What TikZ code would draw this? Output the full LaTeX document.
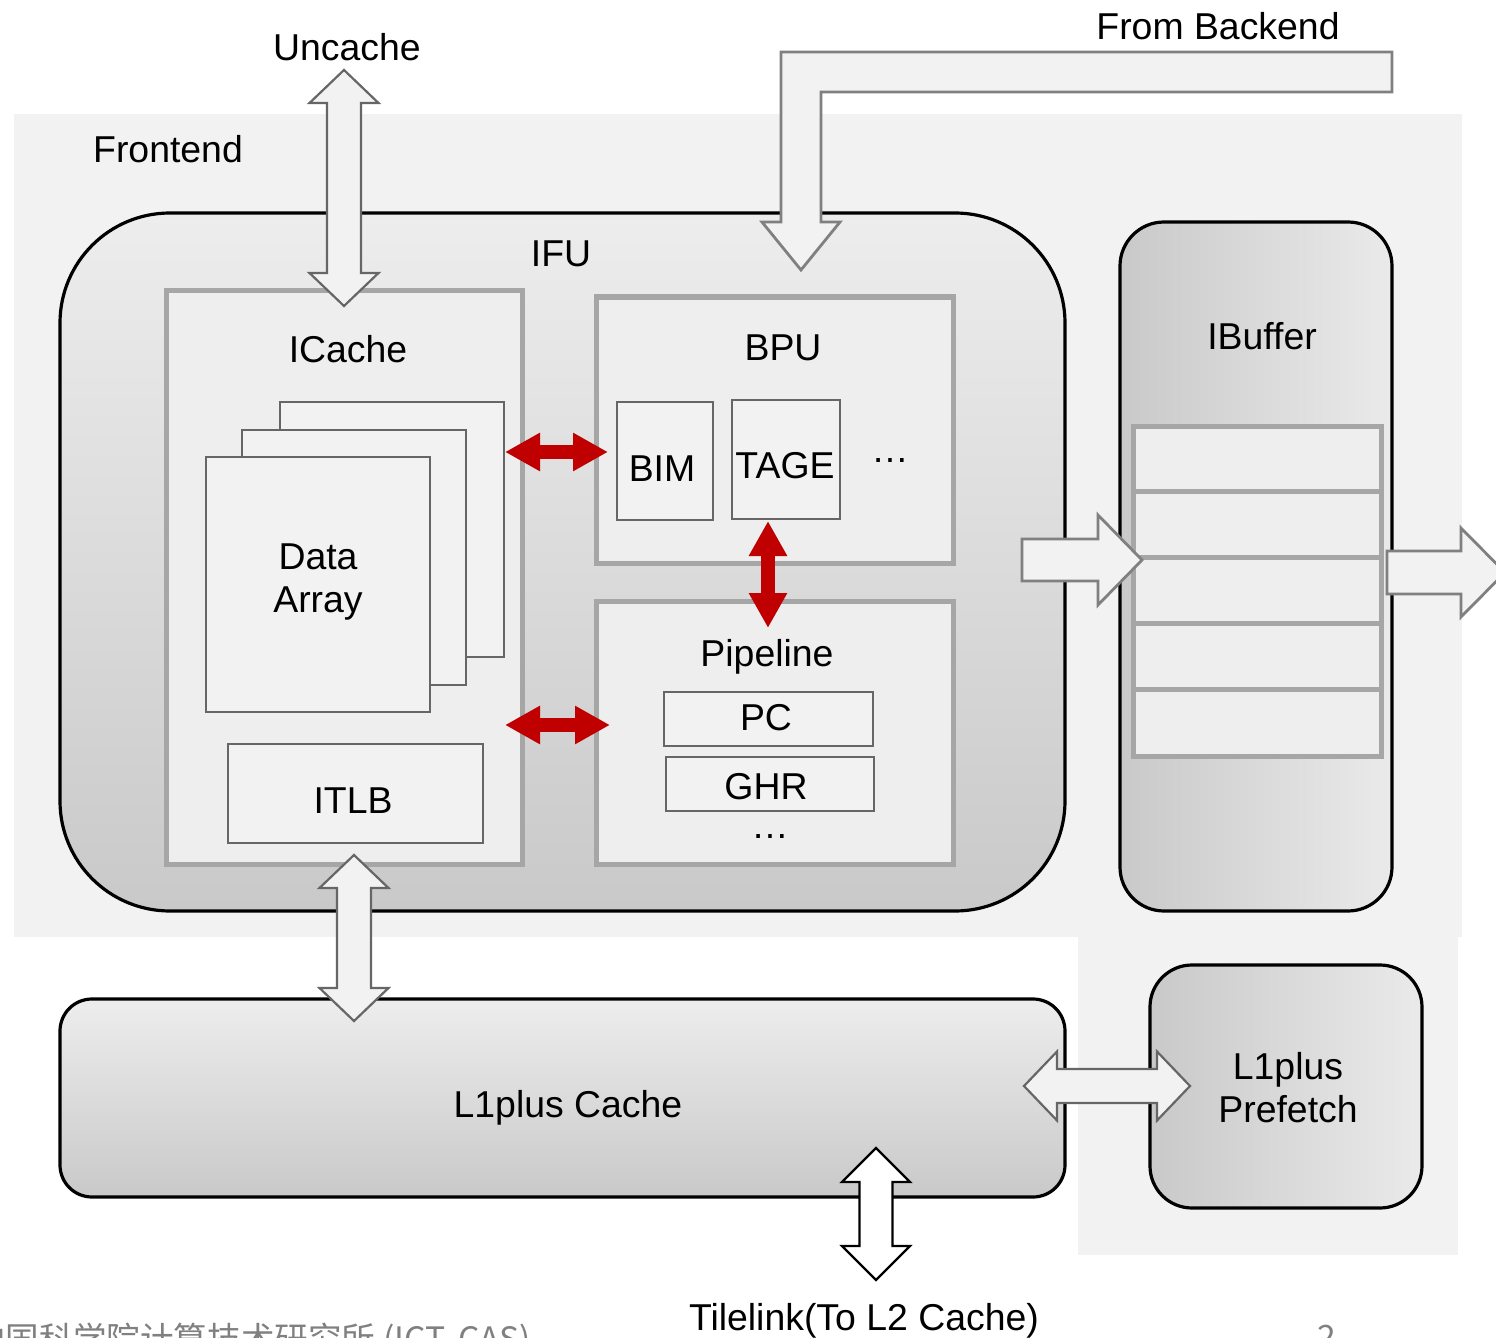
\documentclass[tikz,border=0pt]{standalone}
\usepackage{fontspec}
\setmainfont{Liberation Sans}
\newfontfamily\cjkfont{Noto Sans CJK SC}
\usetikzlibrary{fit,calc,arrows.meta}

\definecolor{bgpanel}{HTML}{F2F2F2}
\definecolor{unitfill}{HTML}{EEEEEE}
\definecolor{unitedge}{HTML}{A6A6A6}
\definecolor{cellfill}{HTML}{F2F2F2}
\definecolor{celledge}{HTML}{666666}
\definecolor{linkred}{HTML}{C00000}
\definecolor{arrowgray}{HTML}{808080}
\definecolor{arrowdark}{HTML}{666666}
\definecolor{ifutop}{HTML}{EDEDED}
\definecolor{ifubot}{HTML}{C9C9C9}
\definecolor{sideleft}{HTML}{C9C9C9}
\definecolor{sideright}{HTML}{EAEAEA}
\definecolor{footgray}{HTML}{808080}

% vertical double block arrow: [style]{top}{bottom}{shaft half}{head half}{head length}
\newcommand{\vdoublearrow}[6][]{%
  \path[#1] let \p1=(#2), \p2=(#3) in
    (\x1,\y1) -- (\x1+#5,\y1-#6) -- (\x1+#4,\y1-#6) -- (\x1+#4,\y2+#6)
    -- (\x1+#5,\y2+#6) -- (\x1,\y2) -- (\x1-#5,\y2+#6) -- (\x1-#4,\y2+#6)
    -- (\x1-#4,\y1-#6) -- (\x1-#5,\y1-#6) -- cycle;}
% horizontal double block arrow: [style]{left}{right}{shaft half}{head half}{head length}
\newcommand{\hdoublearrow}[6][]{%
  \path[#1] let \p1=(#2), \p2=(#3) in
    (\x1,\y1) -- (\x1+#6,\y1+#5) -- (\x1+#6,\y1+#4) -- (\x2-#6,\y1+#4)
    -- (\x2-#6,\y1+#5) -- (\x2,\y1) -- (\x2-#6,\y1-#5) -- (\x2-#6,\y1-#4)
    -- (\x1+#6,\y1-#4) -- (\x1+#6,\y1-#5) -- cycle;}
% single right-pointing block arrow: [style]{tail}{tip}{shaft half}{head half}{head length}
\newcommand{\hsinglearrow}[6][]{%
  \path[#1] let \p1=(#2), \p2=(#3) in
    (\x1,\y1+#4) -- (\x2-#6,\y1+#4) -- (\x2-#6,\y1+#5) -- (\x2,\y1)
    -- (\x2-#6,\y1-#5) -- (\x2-#6,\y1-#4) -- (\x1,\y1-#4) -- cycle;}

\begin{document}
\begin{tikzpicture}[x=0.5pt,y=-0.5pt,
  lbl/.style={font=\fontsize{18.7}{21.5}\selectfont, inner sep=0pt, text=black},
  bigblock/.style={draw=black, line width=1.6pt, inner sep=0pt},
  unitbox/.style={draw=unitedge, line width=2.5pt, fill=unitfill, inner sep=0pt},
  cellbox/.style={draw=celledge, line width=1.2pt, fill=cellfill, inner sep=0pt},
  slotbox/.style={draw=unitedge, line width=2.5pt, fill=unitfill, inner sep=0pt},
  redlink/.style={draw=linkred, line width=7pt,
    {Triangle[length=17.5pt,width=18pt]}-{Triangle[length=17.5pt,width=18pt]}},
  blocklight/.style={draw=arrowgray, line width=1.4pt, fill=bgpanel},
  blockdark/.style={draw=arrowdark, line width=1.1pt, fill=bgpanel},
  blockblack/.style={draw=black, line width=1.1pt, fill=white},
  footer/.style={font=\cjkfont\fontsize{16.8}{20}\selectfont, text=footgray, inner sep=0pt}]

\useasboundingbox (0,0) rectangle (1496,1338);
\clip (0,0) rectangle (1496,1338);
\fill[white] (0,0) rectangle (1496,1338);

% frontend panels
\fill[bgpanel] (14,114) rectangle (1462,937);
\fill[bgpanel] (1078,937) rectangle (1458,1255);
\node[lbl, anchor=base] (frontendlbl) at (168,163) {Frontend};

% IFU
\node[bigblock, fit={(60,213)(1065,911)}, rounded corners=55pt,
      top color=ifutop, bottom color=ifubot] (ifu) {};
\node[lbl, anchor=base] (ifulbl) at (561,266) {IFU};

% ICache
\node[unitbox, fit={(166,291)(522,864)}] (icache) {};
\node[lbl, anchor=base] (icachelbl) at (348,363) {ICache};
\node[cellbox, fit={(280,402)(504,657)}] (arrback) {};
\node[cellbox, fit={(242,430)(466,685)}] (arrmid) {};
\node[cellbox, fit={(206,457)(430,712)}] (arrfront) {};
\node[lbl, align=center] (arrlbl) at (318,582) {Data\\Array};
\node[cellbox, fit={(228,744)(483,843)}] (itlb) {};
\node[lbl, anchor=base] (itlblbl) at (353,813) {ITLB};

% BPU
\node[unitbox, fit={(596,297)(953,563)}] (bpu) {};
\node[lbl, anchor=base] (bpulbl) at (783,360) {BPU};
\node[cellbox, fit={(617,402)(713,520)}] (bim) {};
\node[lbl, anchor=base] (bimlbl) at (662,481) {BIM};
\node[cellbox, fit={(732,400)(840,519)}] (tage) {};
\node[lbl, anchor=base] (tagelbl) at (785,478) {TAGE};
\node[lbl, anchor=base] (bpudots) at (890,462) {…};

% Pipeline
\node[unitbox, fit={(596,601)(953,864)}] (pipe) {};
\node[lbl, anchor=base] (pipelbl) at (767,666) {Pipeline};
\node[cellbox, fit={(664,692)(873,746)}] (pc) {};
\node[lbl, anchor=base] (pclbl) at (766,730) {PC};
\node[cellbox, fit={(666,757)(874,811)}] (ghr) {};
\node[lbl, anchor=base] (ghrlbl) at (766,799) {GHR};
\node[lbl, anchor=base] (pipedots) at (770,838) {…};

% IBuffer
\node[bigblock, fit={(1120,222)(1392,911)}, rounded corners=22pt,
      left color=sideleft, right color=sideright] (ibuf) {};
\node[lbl, anchor=base] (ibuflbl) at (1262,350) {IBuffer};
\foreach \i/\ya/\yb in {1/426/491, 2/491/557, 3/557/623, 4/623/689, 5/689/756}
  \node[slotbox, fit={(1133,\ya)(1381,\yb)}] (slot\i) {};

% L1plus Cache and prefetcher
\node[bigblock, fit={(60,999)(1065,1197)}, rounded corners=16pt,
      top color=ifutop, bottom color=ifubot] (l1plus) {};
\node[lbl, anchor=base] (l1pluslbl) at (568,1117) {L1plus Cache};
\node[bigblock, fit={(1150,965)(1422,1208)}, rounded corners=21pt,
      left color=sideleft, right color=sideright] (pf) {};
\node[lbl, align=center] (pflbl) at (1288,1088) {L1plus\\Prefetch};

% red links inside the IFU
\coordinate (icBimL) at (505,452);  \coordinate (icBimR) at (608,452);
\coordinate (icPipeL) at (505,725); \coordinate (icPipeR) at (610,725);
\coordinate (tageLow) at (768,521); \coordinate (pipeTop) at (768,628);
\draw[redlink] (icBimL) -- (icBimR);
\draw[redlink] (icPipeL) -- (icPipeR);
\draw[redlink] (tageLow) -- (pipeTop);

% Uncache port
\node[lbl, anchor=base] (uncachelbl) at (347,61) {Uncache};
\coordinate (uncTop) at (344,70);
\coordinate (uncBot) at (344,306);
\vdoublearrow[blockdark]{uncTop}{uncBot}{8.5pt}{17.25pt}{16.5pt}

% redirect from backend into the BPU
\node[lbl, anchor=base] (backendlbl) at (1218,40) {From Backend};
\coordinate (bpuFeed) at (801,270);
\draw[blocklight] (1392,52) -- (781,52) -- (781,222) -- (762,222) -- (bpuFeed)
  -- (840,222) -- (821,222) -- (821,92) -- (1392,92) -- cycle;

% fetch path IFU -> IBuffer -> out
\coordinate (ifuOut) at (1022,560);
\coordinate (ibufIn) at (1142,560);
\hsinglearrow[blocklight]{ifuOut}{ibufIn}{10.5pt}{22.5pt}{22pt}
\coordinate (ibufOut) at (1387,572.5);
\coordinate (decodeIn) at (1505,572.5);
\hsinglearrow[blocklight]{ibufOut}{decodeIn}{10.75pt}{22.25pt}{22pt}

% ICache <-> L1plus, L1plus <-> prefetch, L1plus <-> L2
\coordinate (itlbLow) at (354,855);
\coordinate (l1Top) at (354,1021);
\vdoublearrow[blockdark]{itlbLow}{l1Top}{8.5pt}{17.25pt}{16.5pt}
\coordinate (l1Right) at (1024,1086);
\coordinate (pfLeft) at (1190,1086);
\hdoublearrow[blockdark]{l1Right}{pfLeft}{8.5pt}{17.25pt}{16.5pt}
\coordinate (l1Low) at (876,1148);
\coordinate (l2Port) at (876,1280);
\vdoublearrow[blockblack]{l1Low}{l2Port}{8.25pt}{17pt}{17pt}
\node[lbl, anchor=base] (tilelinklbl) at (864,1330) {Tilelink(To L2 Cache)};

% slide footer
\node[footer, anchor=base west] (footinst) at (-28,1351) {中国科学院计算技术研究所 (ICT, CAS)};
\node[footer, anchor=base] (footpage) at (1327,1349) {2};
\end{tikzpicture}
\end{document}
